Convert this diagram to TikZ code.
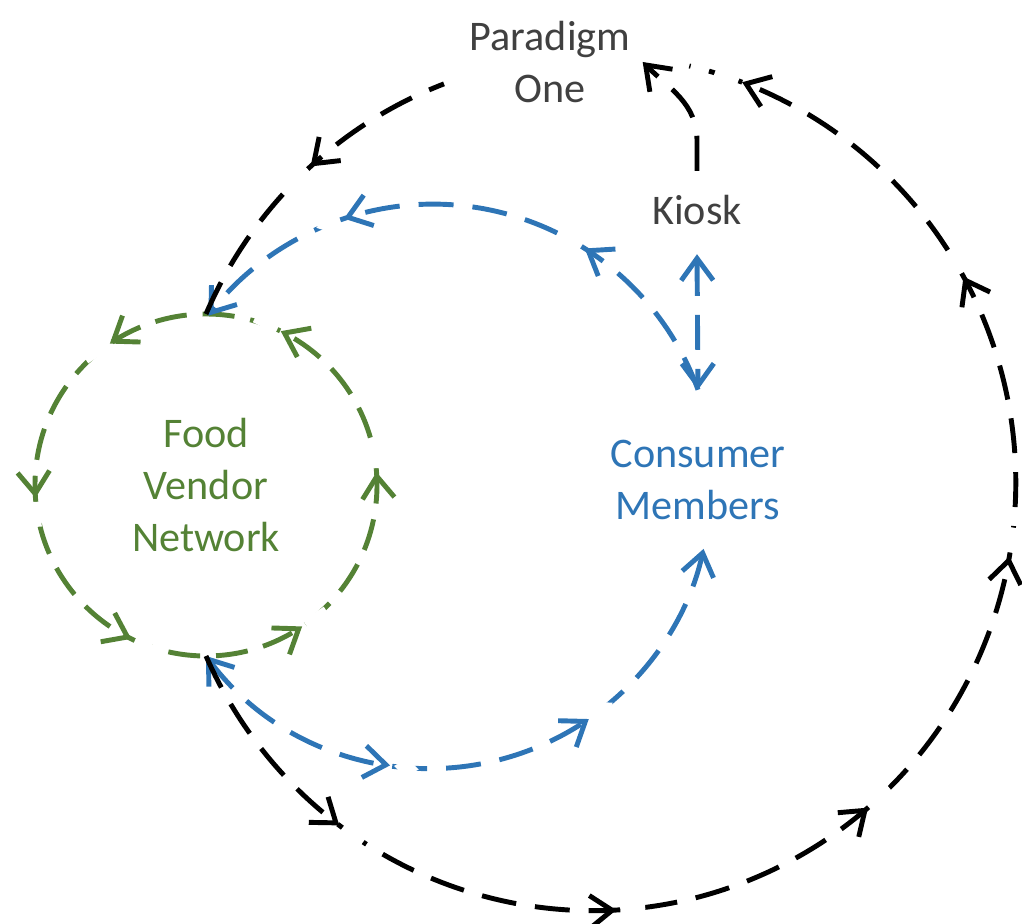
\documentclass[tikz,border=0pt]{standalone}
\usepackage{fontspec}
\setmainfont{Carlito}
\usetikzlibrary{arrows.meta,decorations.markings}
\definecolor{vgreen}{RGB}{84,130,53}
\definecolor{cblue}{RGB}{46,117,182}
\definecolor{tgray}{RGB}{64,64,64}
\tikzset{
  barb/.tip={Straight Barb[length=2.2mm,width=3.2mm,line width=1.4pt]},
  lbl/.style={align=center,font=\fontsize{12}{14.8}\selectfont},
  loopline/.style={line width=1.4pt,dash pattern=on 3.5mm off 1.9mm},
  arr/.style={postaction={decorate,decoration={markings,mark=at position #1 with {\draw[white,solid,line width=2.4pt] (0.4mm,0) -- (2.9mm,0); \arrow{barb}}}}},
  rarr/.style={postaction={decorate,decoration={markings,mark=at position #1 with {\draw[white,solid,line width=2.4pt] (-0.4mm,0) -- (-2.9mm,0); \arrowreversed{barb}}}}}
}

\begin{document}
\begin{tikzpicture}
    \useasboundingbox (0,0) rectangle (10.22,-9.24);
    \node[lbl,text=vgreen] (fvn) at (2.06,-4.85) {Food\\Vendor\\Network};
    \node[lbl,text=cblue] (cm) at (6.98,-4.80) {Consumer\\Members};
    \node[lbl,text=tgray] (kiosk) at (6.97,-2.10) {Kiosk};
    \node[lbl,text=tgray] (p1) at (5.50,-0.62) {Paradigm\\One};
    \node[circle,minimum size=3.42cm,inner sep=0pt,outer sep=0pt] (ring) at (fvn) {};
    \coordinate (cmtop) at ([yshift=3.8mm]cm.north);
    % vendor loop
    \draw[loopline,vgreen,dash pattern=on 3.2mm off 1.6mm,arr=0.012,arr=0.178,arr=0.345,arr=0.512,arr=0.678,arr=0.845] (ring.center) circle (1.71);
    % consumer loop
    \draw[loopline,cblue,-barb,arr=0.305,arr=0.72] (cmtop) arc[start angle=20,end angle=142.8,radius=2.82];
    \draw[loopline,cblue,barb-barb,arr=0.344,arr=0.671] (ring.south) arc[start angle=216.8,end angle=347.5,radius=2.8];
    \draw[loopline,cblue,barb-barb] ([yshift=-1.7mm]kiosk.south) -- (cmtop);
    % paradigm loop
    \draw[loopline,rarr=0.536] (ring.north) arc[start angle=156.6,end angle=110.8,x radius=4.23,y radius=4.28];
    \draw[loopline,arr=0.126,arr=0.297,arr=0.457,arr=0.627,arr=0.794,arr=0.968] (ring.south) arc[start angle=203.9,end angle=436.8,x radius=4.23,y radius=4.28];
    \draw[loopline,-barb] ([yshift=1.2mm]kiosk.north) -- ++(0,0.3) to[out=90,in=-45] (p1.east);
\end{tikzpicture}
\end{document}
